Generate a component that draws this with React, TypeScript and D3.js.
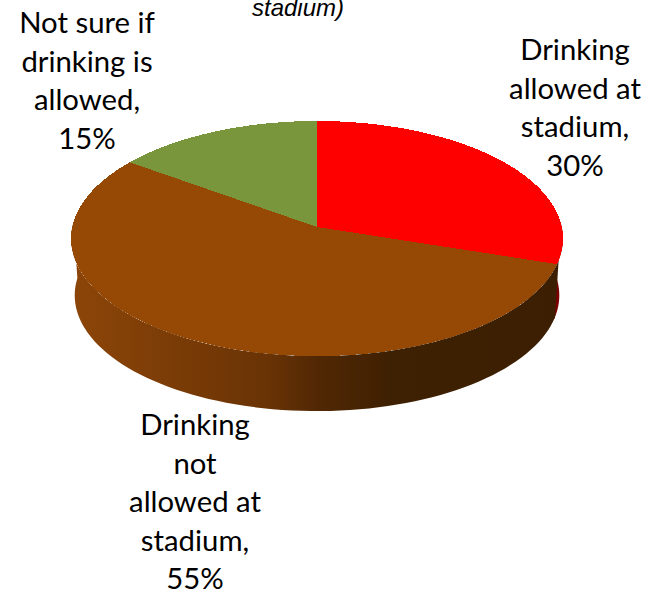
import * as d3 from 'd3';

const categories = ['Drinking allowed at stadium', 'Drinking not allowed at stadium', 'Not sure if drinking is allowed'];
const shares = [30, 55, 15];
const topColors = ['#ff0000', '#964805', '#7a963c'];
const labelLines = [
  ['Drinking', 'allowed at', 'stadium,', '30%'],
  ['Drinking', 'not', 'allowed at', 'stadium,', '55%'],
  ['Not sure if', 'drinking is', 'allowed,', '15%'],
];
const labelCenters = [
  [575, 60],
  [195, 435],
  [87, 33],
];
const wallStops = [
  [0, '#8c4508'],
  [0.25, '#773a06'],
  [0.4, '#693305'],
  [0.5, '#522804'],
  [0.65, '#3e2002'],
  [1, '#3c1e02'],
];

const width = 650;
const height = 592;
const cx = 317;
const cy = 227;
const a = 244.8;
const b = 116.4;
const k = 0.098; // perspective, front of the disc looks bigger
const depth = 57;
const baseScale = 0.985;
const wallOverlap = 0.03; // brown wall runs a bit past its slice, only a sliver of red shows

// angle on the disc -> screen point, level 0 is the top face and 1 the base
const project = (angle: number, level = 0, radius = 1): [number, number] => {
  const X = radius * Math.sin(angle);
  const Y = -radius * Math.cos(angle);
  const d = 1 - k * Y;
  const s = 1 - (1 - baseScale) * level;
  return [cx + (a * X * s) / d, cy + level * depth + (b * Y * s) / d];
};

const line = d3.line();

const arcPoints = (start: number, end: number, level = 0) =>
  d3.range(0, 81).map((i) => project(start + ((end - start) * i) / 80, level));

const App = () => {
  const arcs = d3.pie<number>().sort(null)(shares);

  // the wall is seen from about 90deg round to 270deg
  const wallPath = (start: number, end: number) => {
    const s = Math.max(start, Math.PI / 2 - 0.05);
    const e = Math.min(end, (Math.PI * 3) / 2 + 0.05);
    if (e <= s) return '';
    return line([...arcPoints(s, e, 0), ...arcPoints(s, e, 1).reverse()]) + 'Z';
  };

  return (
    <svg
      width={width}
      height={height}
      viewBox={`0 0 ${width} ${height}`}
      style={{ position: 'absolute', left: 0, top: 0, background: '#fff' }}
    >
      <defs>
        <linearGradient id="wall" gradientUnits="userSpaceOnUse" x1={72} x2={562} y1={0} y2={0}>
          {wallStops.map(([o, c]) => (
            <stop key={o as number} offset={o as number} stopColor={c as string} />
          ))}
        </linearGradient>
      </defs>

      <g>
        <path d={wallPath(arcs[0].startAngle, arcs[0].endAngle)} fill="#7a0000" />
        <path d={wallPath(arcs[1].startAngle - wallOverlap, arcs[1].endAngle)} fill="url(#wall)" />
      </g>

      <g shapeRendering="crispEdges">
        {arcs.map((d, i) => (
          <path
            key={categories[i]}
            d={line([[cx, cy], ...arcPoints(d.startAngle, d.endAngle)]) + 'Z'}
            fill={topColors[i]}
          />
        ))}
      </g>

      <text
        x={298}
        y={16}
        textAnchor="middle"
        fontFamily="'Liberation Sans', Arial, sans-serif"
        fontStyle="italic"
        fontSize={24}
        fill="#000"
      >
        stadium)
      </text>

      {labelLines.map((lines, i) => (
        <text
          key={categories[i]}
          fontFamily="Lato, sans-serif"
          fontSize={29.3}
          textAnchor="middle"
          fill="#000"
        >
          {lines.map((t, j) => (
            <tspan key={j} x={labelCenters[i][0]} y={labelCenters[i][1] + j * 38.6}>
              {t}
            </tspan>
          ))}
        </text>
      ))}
    </svg>
  );
};

export default App;
